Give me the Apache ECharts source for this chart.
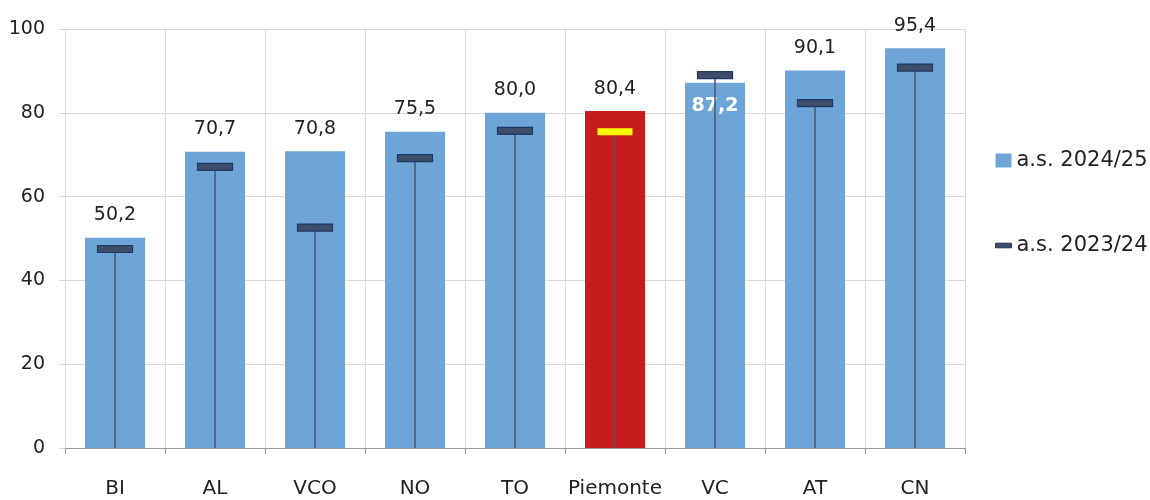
<!DOCTYPE html>
<html><head><meta charset="utf-8">
<script src="https://cdn.jsdelivr.net/npm/echarts@6/dist/echarts.min.js"></script>
<style>html,body{margin:0;padding:0;background:#fff}#c{width:1150px;height:500px}</style>
</head><body><div id="c"></div>
<script>
const categories = ['BI','AL','VCO','NO','TO','Piemonte','VC','AT','CN'];
const values2425 = [50.2,70.7,70.8,75.5,80.0,80.4,87.2,90.1,95.4];
const values2324 = [47.5,67.1,52.6,69.2,75.7,75.5,89.0,82.3,90.8];
const yTicks = [0,20,40,60,80,100];
const seriesNames = ['a.s. 2024/25','a.s. 2023/24'];
const highlight = 'Piemonte';
const insideLabel = 'VC';

const FONT = 'DejaVu Sans';
const BLUE = '#6ea5d8', RED = '#c81b1b';
const fmt = v => v.toFixed(1).replace('.', ',');

const barData = values2425.map((v,i) => {
  const d = {value: v, itemStyle: {color: categories[i] === highlight ? RED : BLUE}};
  if (categories[i] === insideLabel) {
    d.label = {position: 'insideTop', color: '#fff', fontWeight: 'bold', distance: 14};
  }
  return d;
});
const markerData = values2324.map((v,i) => [i, v]);

const chart = echarts.init(document.getElementById('c'));
chart.setOption({
  animation: false,
  textStyle: {fontFamily: FONT},
  grid: {left: 65, right: 185, top: 29, bottom: 52},
  legend: {
    orient: 'vertical', left: 990, top: 145, itemGap: 64,
    itemWidth: 16, itemHeight: 14,
    textStyle: {fontFamily: FONT, fontSize: 21, color: '#222'},
    data: [
      {name: seriesNames[0], icon: 'rect'},
      {name: seriesNames[1], icon: 'path://M0,0H14V4H0Z', itemStyle: {color: '#3e4d68', borderColor: '#1f3864', borderWidth: 1}}
    ]
  },
  xAxis: {
    type: 'category', data: categories,
    axisLine: {lineStyle: {color: '#999', width: 1}},
    axisTick: {show: true, length: 6, interval: 0, lineStyle: {color: '#999'}},
    axisLabel: {margin: 31, interval: 0, fontSize: 20, color: '#222', fontFamily: FONT},
    splitLine: {show: true, interval: 0, lineStyle: {color: '#d9d9d9'}}
  },
  yAxis: {
    type: 'value', min: 0, max: 100, interval: 20,
    axisLine: {show: true, lineStyle: {color: '#d9d9d9'}},
    axisTick: {show: true, length: 6, lineStyle: {color: '#d9d9d9'}},
    axisLabel: {fontSize: 19, color: '#222', fontFamily: FONT, margin: 20,
      formatter: v => yTicks.includes(v) ? String(v) : ''},
    splitLine: {lineStyle: {color: '#d9d9d9'}}
  },
  series: [
    {
      name: seriesNames[0], type: 'bar', barWidth: '60%',
      data: barData,
      itemStyle: {color: BLUE},
      label: {show: true, position: 'top', distance: 13, fontSize: 19, color: '#222', fontFamily: FONT,
        formatter: p => fmt(p.value)}
    },
    {
      name: seriesNames[1], type: 'custom', z: 5,
      itemStyle: {color: '#3e4d68'},
      encode: {x: 0, y: 1},
      data: markerData,
      renderItem: (params, api) => {
        const idx = api.value(0);
        const top = api.coord([idx, api.value(1)]);
        const base = api.coord([idx, 0]);
        const isH = categories[idx] === highlight;
        const w = 35, h = 7;
        return {
          type: 'group',
          children: [
            {type: 'line', shape: {x1: top[0], y1: base[1], x2: top[0], y2: top[1]},
              style: {stroke: '#4a5468', lineWidth: 1.5}},
            {type: 'rect', shape: {x: top[0] - w/2, y: top[1] - h/2, width: w, height: h},
              style: isH ? {fill: '#ffff00', stroke: null} : {fill: '#3e4d68', stroke: '#1f3864', lineWidth: 1.2}}
          ]
        };
      }
    }
  ]
});
</script></body></html>
